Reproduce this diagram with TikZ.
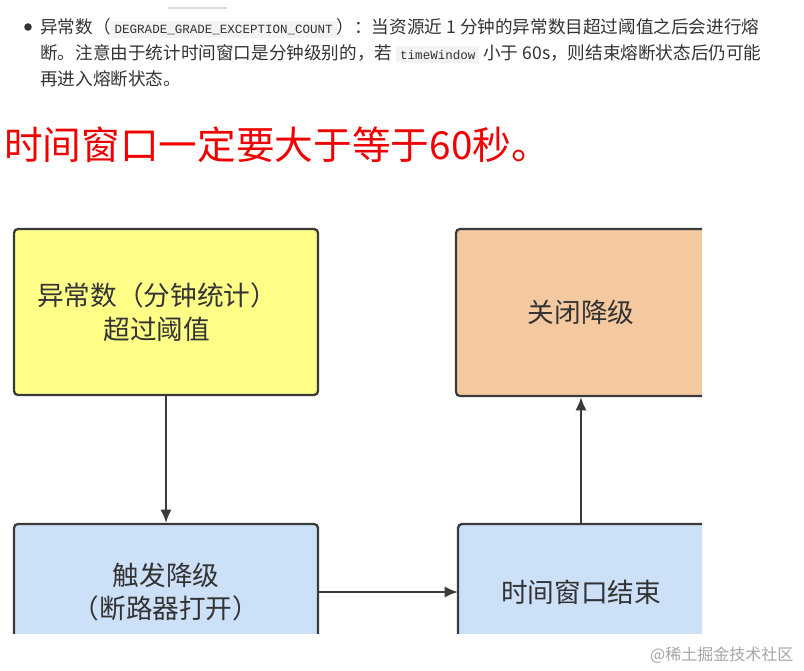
\documentclass[tikz,border=0pt]{standalone}
\usepackage{fontspec}
\usetikzlibrary{arrows.meta}
\setmainfont{Noto Sans CJK SC}
\newfontfamily\codefont{Liberation Mono}
\definecolor{codebg}{HTML}{F2F3F5}
\definecolor{txt}{HTML}{333333}
\definecolor{yel}{HTML}{FFFF88}
\definecolor{ora}{HTML}{F5C9A0}
\definecolor{blu}{HTML}{CCE0F8}
\definecolor{edge}{HTML}{3A3A3A}
\newcommand\codebx[1]{{\setlength\fboxsep{3pt}\colorbox{codebg}{\codefont\fontsize{9.4}{10}\selectfont #1}}}
\begin{document}
\begin{tikzpicture}[x=0.75pt,y=-0.75pt,
  bx/.style={draw=edge,line width=1.7pt,rounded corners=3pt},
  lbl/.style={font=\fontsize{20}{25}\selectfont,text=txt,align=center},
  ln/.style={anchor=base west,inner sep=0pt,text=txt,font=\fontsize{13.2}{14}\selectfont},
  arr/.style={draw=edge,line width=1.8pt,-{Latex[length=10pt,width=8.5pt]}}]
\useasboundingbox[fill=white] (0,0) rectangle (804,671);
\draw[codebg!90!black,line width=1.5pt] (168,8) -- (227,8);
\node[circle,fill=txt,inner sep=2pt] (bul) at (28,27) {};
\node[ln] (l1) at (40,33) {异常数（\codebx{DEGRADE\_GRADE\_EXCEPTION\_COUNT}）：当资源近 1 分钟的异常数目超过阈值之后会进行熔};
\node[ln] (l2) at (40,59) {断。注意由于统计时间窗口是分钟级别的，若 \codebx{timeWindow} 小于 60s，则结束熔断状态后仍可能};
\node[ln] (l3) at (40,85) {再进入熔断状态。};
\node[anchor=west,inner sep=0pt,text={rgb,255:red,240;green,0;blue,0},font=\fontsize{29}{34}\selectfont] (title) at (4,145) {时间窗口一定要大于等于60秒。};
\begin{scope}
\clip (0,0) rectangle (702,633);
\path[bx,fill=yel] (14,229) rectangle (318,395);
\path[bx,fill=ora] (456,229) rectangle (740,396);
\path[bx,fill=blu] (14,524) rectangle (318,700);
\path[bx,fill=blu] (458,524) rectangle (740,700);
\end{scope}
\coordinate (a1) at (166,395);
\coordinate (a2) at (166,523);
\coordinate (b1) at (318,592);
\coordinate (b2) at (458,592);
\coordinate (c1) at (581,524);
\coordinate (c2) at (581,397);
\draw[arr] (a1) -- (a2);
\draw[arr] (b1) -- (b2);
\draw[arr] (c1) -- (c2);
\node[lbl] (y) at (157,312) {异常数（分钟统计）\\超过阈值};
\node[lbl] (o) at (581,312) {关闭降级};
\node[lbl] (bl) at (166,592) {触发降级\\（断路器打开）};
\node[lbl] (br) at (581,592) {时间窗口结束};
\node[anchor=east,text=gray!70,font=\fontsize{12}{14}\selectfont] (wm) at (798,655) {@稀土掘金技术社区};
\end{tikzpicture}
\end{document}
